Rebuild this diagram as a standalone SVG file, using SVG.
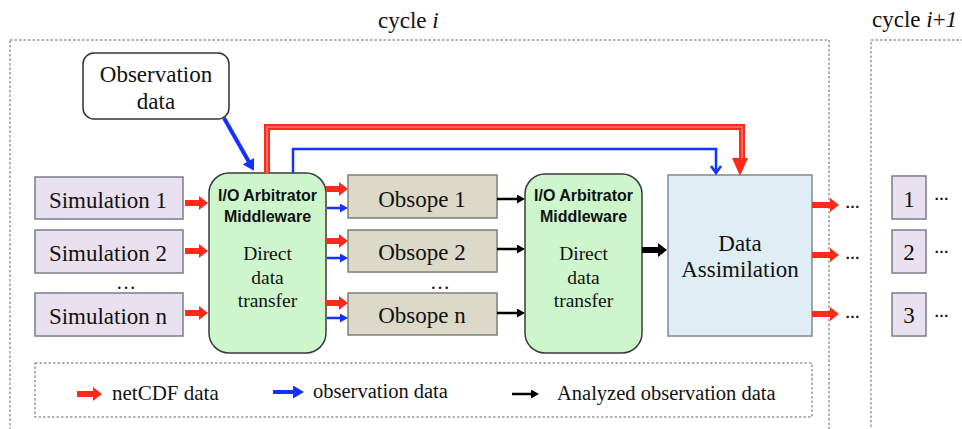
<svg xmlns="http://www.w3.org/2000/svg" width="962" height="429" viewBox="0 0 962 429">
<style>
.serif{font-family:"Liberation Serif","Times New Roman",serif;fill:#111}
.bold{font-family:"Liberation Sans",Arial,sans-serif;font-weight:bold;fill:#111}
.dash{fill:none;stroke:#666;stroke-width:1;stroke-dasharray:2.5,2}
.sim{fill:#e9e1ef;stroke:#7c7c8c;stroke-width:1.5}
.obs{fill:#ddd9c8;stroke:#7f7f78;stroke-width:1.5}
.io{fill:#cdf6cc;stroke:#3a3a3a;stroke-width:1.5}
.da{fill:#dfeef4;stroke:#858592;stroke-width:1.5}
.red{stroke:#ff2a1a;stroke-width:6;fill:none}
.blue{stroke:#1432ff;stroke-width:2.5;fill:none}
.blk{stroke:#000;stroke-width:2.5;fill:none}
</style>
<defs>
<marker id="hr" markerUnits="userSpaceOnUse" markerWidth="10" markerHeight="14" refX="1" refY="7" orient="auto"><path d="M0,0 L9,7 L0,14 Z" fill="#ff2a1a"/></marker>
<marker id="hb" markerUnits="userSpaceOnUse" markerWidth="9" markerHeight="9" refX="1" refY="4.5" orient="auto"><path d="M0,0 L8,4.5 L0,9 Z" fill="#1432ff"/></marker>
<marker id="hbig" markerUnits="userSpaceOnUse" markerWidth="12" markerHeight="13" refX="1" refY="6.5" orient="auto"><path d="M0,0 L11,6.5 L0,13 Z" fill="#1432ff"/></marker>
<marker id="hk" markerUnits="userSpaceOnUse" markerWidth="9" markerHeight="9" refX="1" refY="4.5" orient="auto"><path d="M0,0 L8,4.5 L0,9 Z" fill="#000"/></marker>
<marker id="hkbig" markerUnits="userSpaceOnUse" markerWidth="10" markerHeight="14" refX="1" refY="7" orient="auto"><path d="M0,0 L9,7 L0,14 Z" fill="#000"/></marker>
</defs>

<g id="cycle-i">
<rect class="dash" x="10" y="40" width="819" height="420"/>
<text class="serif" x="378" y="28" font-size="23">cycle <tspan font-style="italic">i</tspan></text>
</g>
<g id="cycle-i1">
<rect class="dash" x="871" y="40" width="120" height="420"/>
<text class="serif" x="872" y="27" font-size="23">cycle <tspan font-style="italic">i</tspan>+<tspan font-style="italic">1</tspan></text>
</g>

<g id="obs-data">
<rect x="83" y="53" width="146" height="66" rx="11" fill="#fff" stroke="#333" stroke-width="1.5"/>
<text class="serif" x="156" y="82" font-size="23" text-anchor="middle">Observation</text>
<text class="serif" x="156" y="109" font-size="23" text-anchor="middle">data</text>
</g>

<g id="sim1"><rect class="sim" x="35" y="177" width="148" height="42"/><text class="serif" x="108" y="208" font-size="23" text-anchor="middle">Simulation 1</text></g>
<g id="sim2"><rect class="sim" x="35" y="230" width="148" height="43"/><text class="serif" x="108" y="261" font-size="23" text-anchor="middle">Simulation 2</text></g>
<g id="simdots"><text class="serif" x="126" y="289" font-size="20" text-anchor="middle">…</text></g>
<g id="simn"><rect class="sim" x="35" y="293" width="148" height="43"/><text class="serif" x="108" y="324" font-size="23" text-anchor="middle">Simulation n</text></g>

<g id="io1">
<rect class="io" x="209" y="173" width="117" height="180" rx="20"/>
<text class="bold" x="267.5" y="201" font-size="16" text-anchor="middle">I/O Arbitrator</text>
<text class="bold" x="267.5" y="222" font-size="16" text-anchor="middle">Middleware</text>
<g class="serif" font-family="Liberation Serif, serif" font-size="19.5" text-anchor="middle">
<text x="267.5" y="260">Direct</text>
<text x="267.5" y="284">data</text>
<text x="267.5" y="307">transfer</text>
</g>
</g>

<g id="obsope1"><rect class="obs" x="348" y="175" width="149" height="43"/><text class="serif" x="422" y="207" font-size="23" text-anchor="middle">Obsope 1</text></g>
<g id="obsope2"><rect class="obs" x="348" y="230" width="149" height="42"/><text class="serif" x="422" y="260" font-size="23" text-anchor="middle">Obsope 2</text></g>
<g id="obsdots"><text class="serif" x="440" y="289" font-size="20" text-anchor="middle">…</text></g>
<g id="obsopen"><rect class="obs" x="348" y="293" width="149" height="42"/><text class="serif" x="422" y="323" font-size="23" text-anchor="middle">Obsope n</text></g>

<g id="io2">
<rect class="io" x="525" y="174" width="117" height="179" rx="20"/>
<text class="bold" x="583.5" y="201" font-size="16" text-anchor="middle">I/O Arbitrator</text>
<text class="bold" x="583.5" y="222" font-size="16" text-anchor="middle">Middleware</text>
<g class="serif" font-family="Liberation Serif, serif" font-size="19.5" text-anchor="middle">
<text x="583.5" y="260">Direct</text>
<text x="583.5" y="284">data</text>
<text x="583.5" y="307">transfer</text>
</g>
</g>

<g id="da">
<rect class="da" x="668" y="175" width="144" height="161"/>
<g class="serif" font-family="Liberation Serif, serif" font-size="23" text-anchor="middle">
<text x="740" y="251">Data</text>
<text x="740" y="277">Assimilation</text>
</g>
</g>

<g id="next1"><rect class="sim" x="892" y="176" width="34" height="43"/><text class="serif" x="909" y="207" font-size="23" text-anchor="middle">1</text></g>
<g id="next2"><rect class="sim" x="892" y="230" width="34" height="43"/><text class="serif" x="909" y="260" font-size="23" text-anchor="middle">2</text></g>
<g id="next3"><rect class="sim" x="892" y="293" width="34" height="43"/><text class="serif" x="909" y="323" font-size="23" text-anchor="middle">3</text></g>

<g id="dots" class="bold" font-size="15">
<text x="845" y="208">…</text><text x="845" y="259">…</text><text x="845" y="318">…</text>
<text x="934" y="200">…</text><text x="934" y="253">…</text><text x="934" y="317">…</text>
</g>

<g id="connectors">
<line x1="224" y1="118" x2="249" y2="162" stroke="#1432ff" stroke-width="4" marker-end="url(#hbig)"/>
<path class="red" d="M267,173 V127 H742 V159"/>
<path d="M267,173 V127 H742 V159" fill="none" stroke="#ff9a90" stroke-width="1.2"/>
<path d="M732,158 L748,158 L740,176 Z" fill="#ff2a1a"/>
<path class="blue" d="M293,173 V149 H716 V172"/>
<path d="M711,166 L716,173 L721,166" fill="none" stroke="#1432ff" stroke-width="2.5"/>
<line class="red" x1="185" y1="203" x2="200" y2="203" marker-end="url(#hr)"/>
<line class="red" x1="185" y1="251" x2="200" y2="251" marker-end="url(#hr)"/>
<line class="red" x1="185" y1="313" x2="200" y2="313" marker-end="url(#hr)"/>
<line class="red" x1="326" y1="189" x2="340" y2="189" marker-end="url(#hr)"/>
<line class="red" x1="326" y1="241" x2="340" y2="241" marker-end="url(#hr)"/>
<line class="red" x1="326" y1="303" x2="340" y2="303" marker-end="url(#hr)"/>
<line class="blue" x1="327" y1="208" x2="341" y2="208" marker-end="url(#hb)"/>
<line class="blue" x1="327" y1="258" x2="341" y2="258" marker-end="url(#hb)"/>
<line class="blue" x1="327" y1="318" x2="341" y2="318" marker-end="url(#hb)"/>
<line class="blk" x1="497" y1="199" x2="518" y2="199" marker-end="url(#hk)"/>
<line class="blk" x1="497" y1="249" x2="518" y2="249" marker-end="url(#hk)"/>
<line class="blk" x1="497" y1="313" x2="518" y2="313" marker-end="url(#hk)"/>
<line x1="642" y1="250" x2="659" y2="250" stroke="#000" stroke-width="6" marker-end="url(#hkbig)"/>
<line class="red" x1="812" y1="205" x2="831" y2="205" marker-end="url(#hr)"/>
<line class="red" x1="812" y1="255" x2="831" y2="255" marker-end="url(#hr)"/>
<line class="red" x1="812" y1="314" x2="831" y2="314" marker-end="url(#hr)"/>
</g>

<g id="legend">
<rect class="dash" x="35" y="363" width="777" height="54"/>
<line class="red" x1="77" y1="394" x2="94" y2="394" marker-end="url(#hr)"/>
<text class="serif" x="112" y="400" font-size="21">netCDF data</text>
<line x1="273" y1="392" x2="294" y2="392" stroke="#1432ff" stroke-width="4" marker-end="url(#hbig)"/>
<text class="serif" x="313" y="398" font-size="20.5">observation data</text>
<line class="blk" x1="512" y1="394" x2="532" y2="394" marker-end="url(#hk)"/>
<text class="serif" x="557" y="400" font-size="20.5">Analyzed observation data</text>
</g>
</svg>
